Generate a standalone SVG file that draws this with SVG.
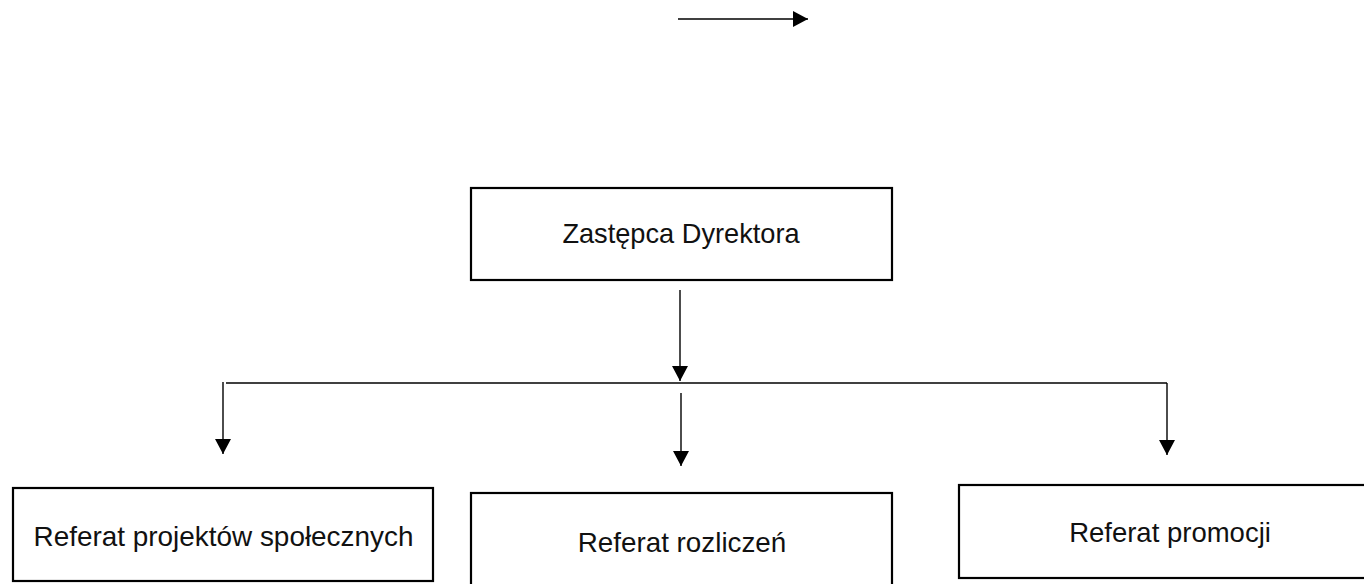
<svg xmlns="http://www.w3.org/2000/svg" width="1364" height="584" viewBox="0 0 1364 584">
<style>
.box{fill:#fff;stroke:#000;stroke-width:2.2}
.lbl{font-family:"Liberation Sans",Arial,sans-serif;font-size:27.2px;fill:#111;text-anchor:middle}
.con{fill:none;stroke:#000;stroke-width:1.4}
</style>
<defs>
<marker id="ah" markerUnits="userSpaceOnUse" markerWidth="16" markerHeight="16" refX="15" refY="8" orient="auto" viewBox="0 0 16 16">
<path d="M0,0 L15,8 L0,16 z" fill="#000"/>
</marker>
</defs>
<rect width="1364" height="584" fill="#fff"/>
<g id="connectors">
<line class="con" x1="678" y1="19" x2="808" y2="19" marker-end="url(#ah)"/>
<line class="con" x1="680" y1="290" x2="680" y2="381" marker-end="url(#ah)"/>
<line class="con" x1="226" y1="383" x2="1167" y2="383"/>
<line class="con" x1="223" y1="382" x2="223" y2="454" marker-end="url(#ah)"/>
<line class="con" x1="681" y1="393" x2="681" y2="466" marker-end="url(#ah)"/>
<line class="con" x1="1167" y1="383" x2="1167" y2="455" marker-end="url(#ah)"/>
</g>
<g id="zastepca">
<rect class="box" x="471" y="188" width="421" height="92"/>
<text class="lbl" x="681" y="243">Zastępca Dyrektora</text>
</g>
<g id="projekty">
<rect class="box" x="13" y="488" width="420" height="93"/>
<text class="lbl" x="223.5" y="546" style="font-size:27.9px">Referat projektów społecznych</text>
</g>
<g id="rozliczenia">
<rect class="box" x="471" y="493" width="421" height="100"/>
<text class="lbl" x="682" y="552" style="font-size:27.8px">Referat rozliczeń</text>
</g>
<g id="promocja">
<rect class="box" x="959" y="485" width="421" height="93"/>
<text class="lbl" x="1170" y="542" style="font-size:27.5px">Referat promocji</text>
</g>
</svg>
